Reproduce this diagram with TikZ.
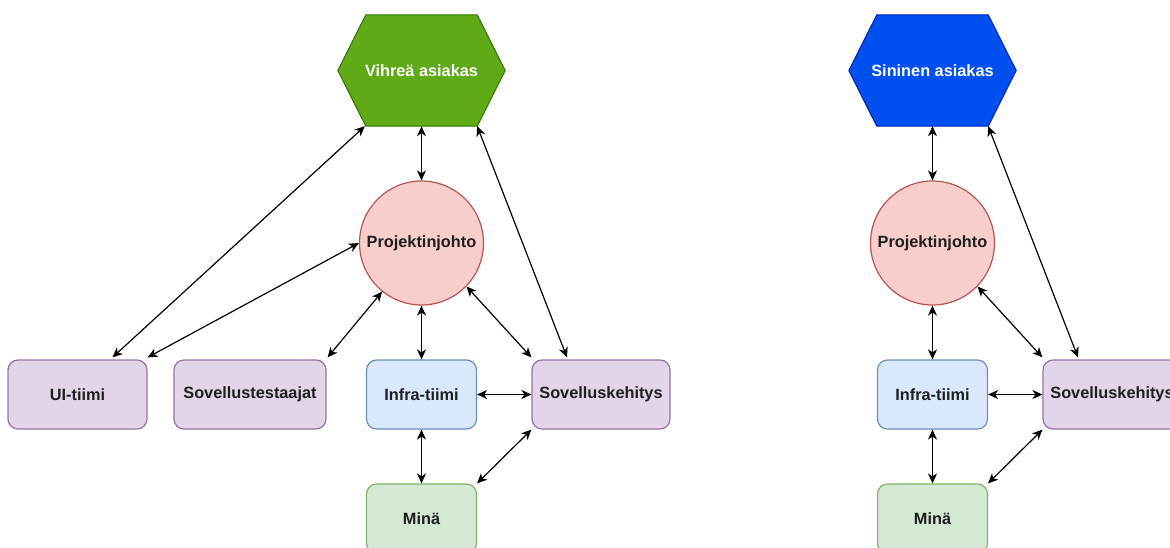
\documentclass[tikz,border=0pt]{standalone}
\usepackage{fontspec}
\setmainfont{Liberation Sans}
\usetikzlibrary{arrows.meta,calc}

\definecolor{greenfill}{HTML}{60A917}
\definecolor{greenline}{HTML}{2D7600}
\definecolor{bluefill}{HTML}{0050EF}
\definecolor{blueline}{HTML}{001DBC}
\definecolor{pinkfill}{HTML}{F8CECC}
\definecolor{pinkline}{HTML}{B85450}
\definecolor{lilacfill}{HTML}{E1D5E7}
\definecolor{lilacline}{HTML}{9673A6}
\definecolor{skyfill}{HTML}{DAE8FC}
\definecolor{skyline}{HTML}{6C8EBF}
\definecolor{mintfill}{HTML}{D5E8D4}
\definecolor{mintline}{HTML}{82B366}
\definecolor{ink}{HTML}{1E1E1E}

\begin{document}
\begin{tikzpicture}[x=1pt,y=-1pt,
  lbl/.style={font=\fontsize{16.3}{19}\selectfont\bfseries, text=ink},
  hexlabel/.style={lbl, text=white, minimum width=167pt, minimum height=111pt, inner sep=0pt},
  teambox/.style={lbl, draw, rounded corners=10pt, line width=1.2pt,
    minimum height=69pt, inner sep=0pt},
  lilac/.style={teambox, fill=lilacfill, draw=lilacline},
  sky/.style={teambox, fill=skyfill, draw=skyline},
  mint/.style={teambox, fill=mintfill, draw=mintline},
  leadcircle/.style={lbl, circle, draw=pinkline, fill=pinkfill, line width=1.2pt,
    minimum size=124pt, inner sep=0pt},
  tip/.style={Stealth[length=10pt,width=9pt,inset=3pt]},
  link/.style={{Stealth[length=10pt,width=9pt,inset=3pt]}-{Stealth[length=10pt,width=9pt,inset=3pt]},
    line width=1.2pt, draw=black}
]
\useasboundingbox (0,0) rectangle (1170,547);
\clip (0,0) rectangle (1170,547);

% ---------- customer with full team ----------
\node[hexlabel] (va) at (421.5,70.5) {};
\path[fill=greenfill, draw=greenline, line width=1pt]
  (va.west) -- ($(va.north west)+(28,0)$) -- ($(va.north east)+(-28,0)$)
  -- (va.east) -- ($(va.south east)+(-28,0)$) -- ($(va.south west)+(28,0)$) -- cycle;
\node[lbl, text=white] at (va.center) {Vihreä asiakas};

\node[leadcircle] (pj) at (421.5,243) {Projektinjohto};
\node[lilac, minimum width=139pt] (ui) at (77.5,394.5) {UI-tiimi};
\node[lilac, minimum width=152pt] (st) at (250,394.5) {Sovellustestaajat};
\node[sky, minimum width=110pt] (it) at (421.5,394.5) {Infra-tiimi};
\node[lilac, minimum width=138pt] (sk) at (601,394.5) {Sovelluskehitys};
\node[mint, minimum width=110pt] (mi) at (421.5,518.5) {Minä};

\draw[link] (va.south) -- (pj.north);
\draw[link] ($(va.south west)+(27,0)$) -- ($(ui.north)+(35,-2)$);
\draw[link] (pj.west) -- ($(ui.north east)+(0,-2)$);
\draw[link] (pj.231) -- ($(st.north east)+(1,-2)$);
\draw[link] ($(va.south east)+(-28,0)$) -- ($(sk.north)+(-34,-2)$);
\draw[link] (pj.-44) -- ($(sk.north west)+(0,-2)$);
\draw[link] (pj.south) -- (it.north);
\draw[link] (it.east) -- (sk.west);
\draw[link] (it.south) -- (mi.north);
\draw[link] (sk.south west) -- (mi.north east);

% ---------- customer with a smaller team ----------
\node[hexlabel] (sa) at (932.5,70.5) {};
\path[fill=bluefill, draw=blueline, line width=1pt]
  (sa.west) -- ($(sa.north west)+(28,0)$) -- ($(sa.north east)+(-28,0)$)
  -- (sa.east) -- ($(sa.south east)+(-28,0)$) -- ($(sa.south west)+(28,0)$) -- cycle;
\node[lbl, text=white] at (sa.center) {Sininen asiakas};

\node[leadcircle] (pj2) at (932.5,243) {Projektinjohto};
\node[sky, minimum width=110pt] (it2) at (932.5,394.5) {Infra-tiimi};
\node[lilac, minimum width=138pt] (sk2) at (1112,394.5) {Sovelluskehitys};
\node[mint, minimum width=110pt] (mi2) at (932.5,518.5) {Minä};

\draw[link] (sa.south) -- (pj2.north);
\draw[link] ($(sa.south east)+(-28,0)$) -- ($(sk2.north)+(-34,-2)$);
\draw[link] (pj2.-44) -- ($(sk2.north west)+(0,-2)$);
\draw[link] (pj2.south) -- (it2.north);
\draw[link] (it2.east) -- (sk2.west);
\draw[link] (it2.south) -- (mi2.north);
\draw[link] (sk2.south west) -- (mi2.north east);
\end{tikzpicture}
\end{document}
